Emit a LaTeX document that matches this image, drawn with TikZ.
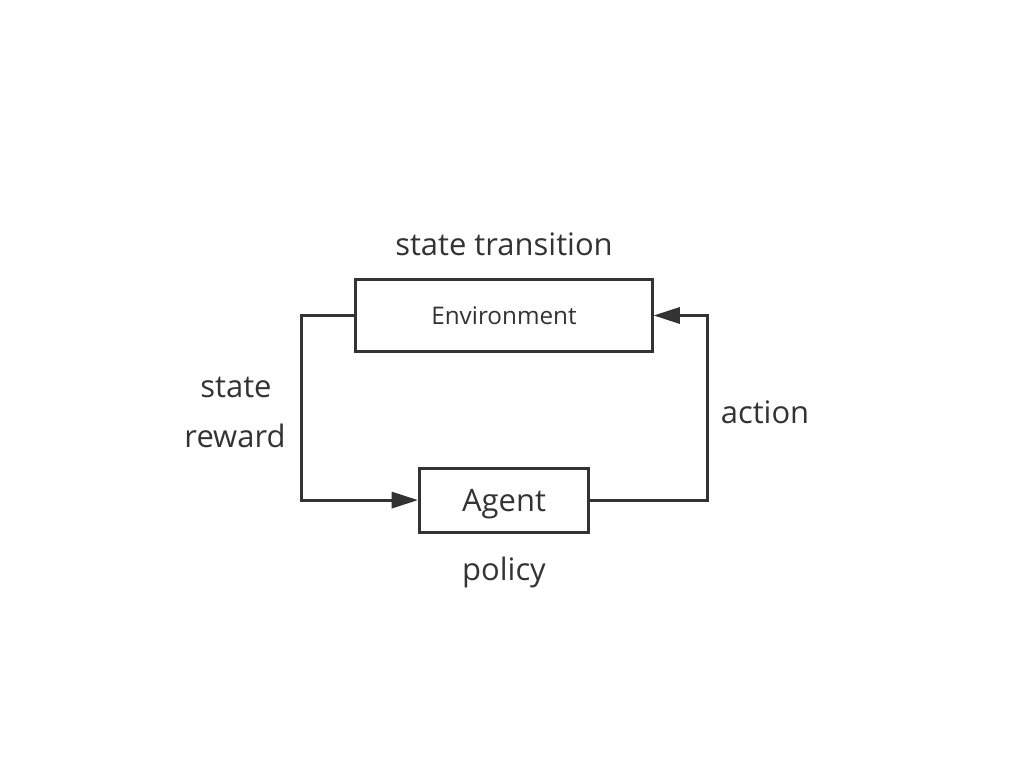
\documentclass[tikz,border=0pt]{standalone}
\usepackage{fontspec}
\setmainfont{Open Sans}
\usepackage{tikz}
\usetikzlibrary{arrows.meta, positioning}
\definecolor{ink}{HTML}{333333}
\tikzstyle{process} = [rectangle, draw=ink, line width=0.85pt, text=ink, text centered, inner sep=0pt]
\tikzstyle{label} = [text=ink, font=\fontsize{8.8}{10}\selectfont]
\tikzstyle{arrow} = [draw=ink, line width=0.85pt, -{Triangle[length=7.5pt,width=4.6pt]}]

\begin{document}
\begin{tikzpicture}[x=0.01cm, y=-0.01cm]
    \useasboundingbox (0,0) rectangle (1024,768);

    % Nodes
    \node (env) [process, minimum width=2.96cm, minimum height=0.71cm, font=\fontsize{6.9}{8}\selectfont] at (504,315.5) {Environment};
    \node (agent) [process, minimum width=1.69cm, minimum height=0.64cm, text depth=0pt, font=\fontsize{8.8}{10}\selectfont, below of=env, node distance=1.845cm] {Agent};

    \node (transition) [label, above of=env, node distance=0.71cm] {state transition};
    \node (policy) [label, below of=agent, node distance=0.72cm] {policy};
    \node (state) [label] at (236,387) {state};
    \node (reward) [label] at (235,436) {reward};
    \node (action) [label] at (765,412) {action};

    % Arrows
    \draw [arrow] (env.west) -- ++(-53,0) |- (agent.west);
    \draw [arrow] (agent.east) -- ++(117,0) |- (env.east);

\end{tikzpicture}
\end{document}
